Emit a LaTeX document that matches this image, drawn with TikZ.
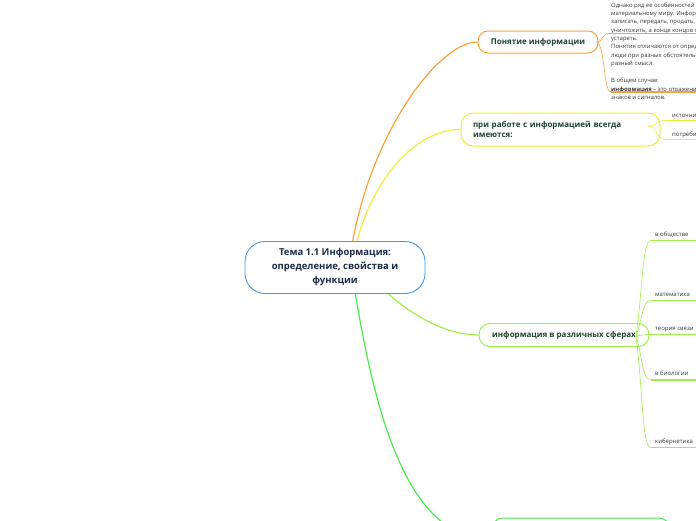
\documentclass[tikz,border=0pt]{standalone}
\usepackage{fontspec}
\setmainfont{Open Sans}
\usepackage{xcolor}
\usetikzlibrary{positioning, calc, backgrounds}
\definecolor{colRoot}{HTML}{4A9BDB}
\definecolor{colRootText}{HTML}{1C2B4A}
\definecolor{colTopicText}{HTML}{1E4433}
\definecolor{colNote}{HTML}{3A3A3A}
\definecolor{colOrange}{HTML}{F9A23C}
\definecolor{colYellow}{HTML}{EEEE3A}
\definecolor{colLime}{HTML}{A2EE4A}
\definecolor{colGreen}{HTML}{4CE94C}

\begin{document}
\begin{tikzpicture}[
    x=1pt, y=-1pt,
    rootbox/.style={
        rectangle, rounded corners=20pt, draw=colRoot,
        line width=0.9pt, fill=white, align=center,
        minimum width=180pt, minimum height=52pt, inner sep=0pt,
        text=colRootText, font=\bfseries\fontsize{9.5}{14}\selectfont
    },
    topicbox/.style={
        rectangle, draw, line width=1pt, fill=white, inner sep=0pt,
        text=colTopicText, font=\bfseries\fontsize{8}{10.5}\selectfont
    },
    notetext/.style={
        anchor=north west, inner sep=0pt, align=left,
        text=colNote, font=\fontsize{5.9}{8.35}\selectfont
    },
    leaftext/.style={
        anchor=base west, inner sep=0pt,
        text=colNote, font=\fontsize{6}{7}\selectfont
    },
    rootlink/.style={line width=1.2pt},
    leaflink/.style={line width=0.6pt},
    leafline/.style={line width=1.6pt}
]
    \useasboundingbox (0,0) rectangle (696,520);
    \clip (0,0) rectangle (696,520);
    \coordinate (edge) at (700,0);

    % --- ROOT ---
    \node[rootbox] (root) at (335,267.5)
        {Тема 1.1 Информация:\\определение, свойства и\\функции};

    % --- MAIN TOPICS ---
    \node[topicbox, draw=colOrange, rounded corners=10pt,
        minimum width=120pt, minimum height=22pt] (concept) at (538,42)
        {Понятие информации};
    \node[topicbox, draw=colYellow, rounded corners=12pt, align=left,
        text width=175pt, minimum width=199pt, minimum height=33pt] (always) at (560.5,129.5)
        {при работе с информацией всегда\\имеются:};
    \node[topicbox, draw=colLime, rounded corners=11pt,
        minimum width=170pt, minimum height=23pt] (spheres) at (564,335)
        {информация в различных сферах};
    \node[topicbox, draw=colGreen, rounded corners=11pt,
        minimum width=178pt, minimum height=44pt] (next) at (581,540) {};

    % --- ROOT LINKS (behind the boxes) ---
    \begin{scope}[on background layer]
        \clip (0,0) rectangle (696,520);
        \draw[rootlink, colOrange] ($(root.north)+(17,4)$)
            .. controls +(20,-115) and +(-38,0) .. (concept.west);
        \draw[rootlink, colYellow] ($(root.north)+(21,4)$)
            .. controls +(16,-65) and +(-46,0) .. (always.west);
        \draw[rootlink, colLime] ($(root.south)+(45,-8)$)
            .. controls +(20,20) and +(-40,0) .. (spheres.west);
        \draw[rootlink, colGreen] ($(root.south)+(19,-8)$)
            .. controls +(19,115) and +(-88,0) .. (next.west);
    \end{scope}

    % --- NOTES OF "Понятие информации" ---
    \node[notetext] (noteA) at (611,2.5)
        {Однако ряд ее особенностей приближает её к\\
         материальному миру. Информацию можно\\
         записать, передать, продать, скопировать,\\
         уничтожить, а конце концов она может\\
         устареть.\\
         Понятия отличаются от определений тем, что\\
         люди при разных обстоятельствах вкладывают\\
         разный смысл.};
    \node[notetext] (noteB) at (611,78)
        {В общем случае:\\
         \textbf{информация} – это отражение реального мира\\
         знаков и сигналов.};

    \coordinate (conceptFork) at ($(concept.east)+(-2,0)$);
    \coordinate (noteAline) at (609,33.5);
    \coordinate (noteBline) at (611,92);
    \draw[leaflink, colOrange] (conceptFork)
        .. controls +(7,0) and +(-8,0) .. (noteAline);
    \draw[leaflink, colOrange] (conceptFork)
        .. controls +(9,3) and +(-8,0) .. (noteBline);
    \draw[leafline, colOrange] (noteAline) -- (noteAline -| edge);
    \draw[leafline, colOrange] (noteBline) -- (noteBline -| edge);

    % --- LEAVES OF "при работе..." ---
    \coordinate (alwaysFork) at (648,126);
    \foreach \leaf/\yy/\txt in {
        source/120.5/источник информации,
        consumer/139.5/потребитель информации
    } {
        \coordinate (\leaf) at (665,\yy);
        \draw[leaflink, colYellow] (alwaysFork)
            .. controls +(10,0) and +(-9,0) .. (\leaf);
        \draw[leafline, colYellow] (\leaf) -- (\leaf -| edge);
        \node[leaftext] (\leaf-label) at ($(\leaf)+(7,-3.5)$) {\txt};
    }

    % --- LEAVES OF "информация в различных сферах" ---
    \coordinate (spheresFork) at (636,336);
    \foreach \leaf/\yy/\txt in {
        society/240.5/в обществе,
        math/300.5/математика,
        commtheory/334.5/теория связи,
        biology/380/в биологии,
        cybernetics/447.5/кибернетика
    } {
        \coordinate (\leaf) at (651,\yy);
        \draw[leaflink, colLime] (spheresFork)
            .. controls (643,{0.5*(336+\yy)}) and (642,\yy) .. (\leaf);
        \draw[leafline, colLime] (\leaf) -- (\leaf -| edge);
        \node[leaftext] (\leaf-label) at ($(\leaf)+(4,-4.5)$) {\txt};
    }

\end{tikzpicture}
\end{document}
